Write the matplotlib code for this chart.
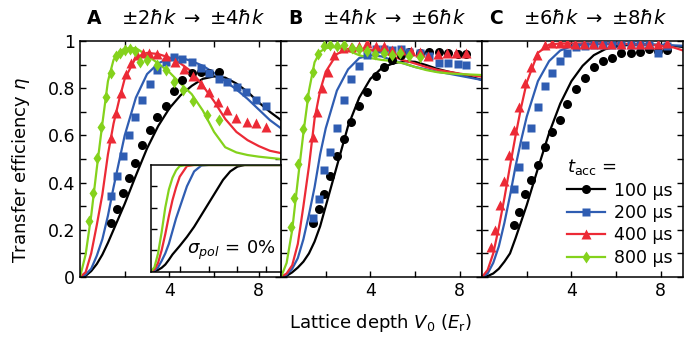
import matplotlib
matplotlib.use("Agg")
import matplotlib.pyplot as plt
from matplotlib.lines import Line2D
from matplotlib.ticker import FixedLocator

plt.rcParams["font.family"] = ["DejaVu Sans"]
plt.rcParams["mathtext.fontset"] = "dejavusans"

# ---- data -------------------------------------------------------------
labels = ["100 μs", "200 μs", "400 μs", "800 μs"]
colors = ["#000000", "#2f5db2", "#ec2a36", "#84d21c"]
markers = ["o", "s", "^", "d"]
titles = [r"$\pm 2\hbar k\;\rightarrow\;{\pm}4\hbar k$",
          r"$\pm 4\hbar k\;\rightarrow\;{\pm}6\hbar k$",
          r"$\pm 6\hbar k\;\rightarrow\;{\pm}8\hbar k$"]
panel_letters = ["A", "B", "C"]
y_ticks = [0, 0.2, 0.4, 0.6, 0.8, 1]
y_ticklabels = ["0", "0.2", "0.4", "0.6", "0.8", "1"]

# theory curves, all on the same V0 grid
v_line = [0, 0.25, 0.5, 0.75, 1, 1.25, 1.5, 1.75, 2, 2.5, 3, 3.5, 4, 4.5,
          5, 5.5, 6, 6.5, 7, 7.5, 8, 8.5, 9]

line_a_100 = [0, 0.005, 0.025, 0.055, 0.095, 0.145, 0.2, 0.255, 0.31, 0.43, 0.545, 0.64,
              0.715, 0.77, 0.81, 0.84, 0.85, 0.845, 0.82, 0.785, 0.74, 0.70, 0.665]
line_a_200 = [0, 0.01, 0.035, 0.09, 0.16, 0.26, 0.38, 0.49, 0.6, 0.76, 0.86, 0.905,
              0.928, 0.93, 0.915, 0.895, 0.865, 0.83, 0.795, 0.755, 0.71, 0.665, 0.63]
line_a_400 = [0, 0.02, 0.1, 0.22, 0.35, 0.52, 0.65, 0.75, 0.84, 0.93, 0.95, 0.945,
              0.93, 0.905, 0.87, 0.81, 0.745, 0.67, 0.615, 0.58, 0.555, 0.535, 0.525]
line_a_800 = [0, 0.095, 0.26, 0.46, 0.65, 0.83, 0.92, 0.955, 0.968, 0.97, 0.94, 0.905,
              0.868, 0.82, 0.775, 0.705, 0.615, 0.55, 0.528, 0.517, 0.51, 0.505, 0.50]

line_b_100 = [0, 0.005, 0.02, 0.04, 0.065, 0.1, 0.15, 0.215, 0.3, 0.47, 0.64, 0.76,
              0.84, 0.885, 0.905, 0.915, 0.912, 0.898, 0.882, 0.87, 0.86, 0.848, 0.835]
line_b_200 = [0, 0.01, 0.035, 0.08, 0.16, 0.265, 0.38, 0.52, 0.63, 0.79, 0.88, 0.928,
              0.94, 0.935, 0.918, 0.905, 0.89, 0.88, 0.87, 0.862, 0.853, 0.844, 0.835]
line_b_400 = [0, 0.015, 0.05, 0.14, 0.3, 0.47, 0.67, 0.79, 0.87, 0.945, 0.967, 0.968,
              0.962, 0.955, 0.935, 0.918, 0.905, 0.89, 0.878, 0.87, 0.862, 0.855, 0.849]
line_b_800 = [0, 0.06, 0.2, 0.41, 0.61, 0.79, 0.91, 0.955, 0.97, 0.975, 0.96, 0.94,
              0.928, 0.92, 0.915, 0.905, 0.89, 0.877, 0.868, 0.863, 0.86, 0.858, 0.856]

line_c_100 = [0, 0.004, 0.015, 0.035, 0.065, 0.1, 0.165, 0.235, 0.305, 0.46, 0.61, 0.735,
              0.83, 0.895, 0.94, 0.965, 0.977, 0.983, 0.985, 0.985, 0.983, 0.98, 0.975]
line_c_200 = [0, 0.015, 0.06, 0.13, 0.23, 0.345, 0.47, 0.58, 0.68, 0.83, 0.915, 0.96,
              0.978, 0.985, 0.988, 0.988, 0.988, 0.987, 0.986, 0.985, 0.984, 0.982, 0.98]
line_c_400 = [0, 0.03, 0.1, 0.21, 0.335, 0.47, 0.6, 0.72, 0.825, 0.95, 0.985, 0.99,
              0.99, 0.99, 0.99, 0.99, 0.99, 0.988, 0.986, 0.984, 0.98, 0.975, 0.96]

# inset: no polarisation noise
inset_100 = [0, 0.003, 0.015, 0.035, 0.065, 0.11, 0.16, 0.2, 0.24, 0.325, 0.42, 0.53,
             0.64, 0.75, 0.86, 0.94, 0.985, 1, 1, 1, 1, 1, 1]
inset_200 = [0, 0.01, 0.04, 0.1, 0.17, 0.26, 0.38, 0.5, 0.6, 0.8, 0.94, 0.995,
             1, 1, 1, 1, 1, 1, 1, 1, 1, 1, 1]
inset_400 = [0, 0.02, 0.08, 0.2, 0.35, 0.52, 0.67, 0.79, 0.89, 0.99, 1, 1,
             1, 1, 1, 1, 1, 1, 1, 1, 1, 1, 1]
inset_800 = [0, 0.04, 0.17, 0.37, 0.6, 0.77, 0.88, 0.95, 0.99, 1, 1, 1,
             1, 1, 1, 1, 1, 1, 1, 1, 1, 1, 1]

# measured points
pts_a_100_v = [1.38, 1.65, 1.92, 2.18, 2.48, 2.78, 3.12, 3.45, 3.83, 4.2, 4.58, 5.0, 5.4, 5.78, 6.23]
pts_a_100 = [0.23, 0.29, 0.355, 0.42, 0.485, 0.56, 0.625, 0.68, 0.725, 0.79, 0.835, 0.865, 0.87, 0.866, 0.87]
pts_a_200_v = [1.38, 1.65, 1.92, 2.18, 2.48, 2.78, 3.12, 3.45, 3.83, 4.2, 4.58, 5.0, 5.4, 5.78,
               6.2, 6.6, 7.02, 7.43, 7.88, 8.33]
pts_a_200 = [0.345, 0.43, 0.513, 0.60, 0.677, 0.75, 0.82, 0.877, 0.912, 0.933, 0.925, 0.91, 0.885,
             0.865, 0.84, 0.828, 0.806, 0.785, 0.75, 0.725]
pts_a_400_v = [1.38, 1.6, 1.83, 2.06, 2.3, 2.55, 2.82, 3.08, 3.45, 3.83, 4.25, 4.65, 5.05, 5.4,
               5.78, 6.16, 6.6, 7.0, 7.46, 7.88, 8.33]
pts_a_400 = [0.588, 0.694, 0.78, 0.859, 0.905, 0.94, 0.95, 0.948, 0.945, 0.935, 0.91, 0.88, 0.85,
             0.82, 0.785, 0.743, 0.707, 0.674, 0.658, 0.651, 0.637]
pts_a_800_v = [0.42, 0.56, 0.75, 0.95, 1.15, 1.38, 1.6, 1.8, 2.03, 2.25, 2.48, 2.7, 3.0, 3.45,
               3.87, 4.2, 4.62, 5.06, 5.7, 6.23]
pts_a_800 = [0.237, 0.354, 0.505, 0.637, 0.764, 0.863, 0.936, 0.95, 0.962, 0.965, 0.959, 0.912,
             0.919, 0.898, 0.876, 0.828, 0.792, 0.746, 0.686, 0.665]

pts_b_v = [1.42, 1.69, 1.94, 2.21, 2.51, 2.81, 3.14, 3.48, 3.86, 4.23, 4.6, 4.98, 5.35, 5.75,
           6.2, 6.62, 7.05, 7.47, 7.9, 8.27]
pts_b_100 = [0.228, 0.287, 0.35, 0.43, 0.513, 0.584, 0.658, 0.726, 0.782, 0.852, 0.888, 0.919,
             0.94, 0.955, 0.95, 0.955, 0.955, 0.948, 0.945, 0.945]
pts_b_200 = [0.249, 0.329, 0.453, 0.531, 0.63, 0.75, 0.838, 0.894, 0.94, 0.965, 0.968, 0.962,
             0.968, 0.955, 0.948, 0.936, 0.905, 0.905, 0.902, 0.9]
pts_b_400_v = [1.42, 1.61, 1.84, 2.09, 2.39, 2.77, 3.14, 3.47, 3.86, 4.23, 4.6, 4.98, 5.35, 5.83,
               6.2, 6.58, 7.03, 7.44, 7.85, 8.3]
pts_b_400 = [0.594, 0.70, 0.799, 0.87, 0.94, 0.969, 0.975, 0.978, 0.99, 0.978, 0.978, 0.96, 0.96,
             0.958, 0.954, 0.936, 0.946, 0.948, 0.95, 0.95]
pts_b_800_v = [0.45, 0.6, 0.78, 0.97, 1.17, 1.42, 1.64, 1.91, 2.21, 2.51, 2.81, 3.17, 3.47, 3.84,
               4.21, 4.6, 4.96, 5.34, 5.75, 6.2]
pts_b_800 = [0.213, 0.333, 0.481, 0.627, 0.757, 0.87, 0.946, 0.979, 0.984, 0.979, 0.983, 0.969,
             0.966, 0.959, 0.945, 0.948, 0.94, 0.948, 0.936, 0.933]

pts_c_v = [1.42, 1.64, 1.9, 2.2, 2.5, 2.8, 3.12, 3.47, 3.8, 4.2, 4.59, 5.0, 5.41, 5.81, 6.2,
           6.65, 7.05, 7.46, 7.88, 8.3]
pts_c_100 = [0.22, 0.277, 0.35, 0.41, 0.475, 0.552, 0.613, 0.665, 0.733, 0.795, 0.845, 0.891,
             0.917, 0.93, 0.95, 0.95, 0.955, 0.965, 0.959, 0.962]
pts_c_200 = [0.373, 0.467, 0.559, 0.633, 0.722, 0.81, 0.863, 0.915, 0.948, 0.973, 0.979, 0.983,
             0.983, 0.983, 0.983, 0.983, 0.983, 0.983, 0.948, 0.979]
pts_c_400_v = [0.4, 0.58, 0.78, 0.97, 1.2, 1.42, 1.64, 1.9, 2.17, 2.47, 2.8, 3.12, 3.47, 3.8,
               4.17, 4.56, 4.96, 5.37, 5.79, 6.2, 6.65, 7.05, 7.46, 7.88, 8.3]
pts_c_400 = [0.128, 0.20, 0.305, 0.408, 0.517, 0.623, 0.72, 0.823, 0.891, 0.94, 0.983, 0.99,
             0.99, 0.99, 0.987, 0.987, 0.987, 0.987, 0.987, 0.987, 0.987, 0.987, 0.987, 0.987, 0.99]

panels = [
    {"lines": [line_a_100, line_a_200, line_a_400, line_a_800],
     "pts": [(pts_a_100_v, pts_a_100), (pts_a_200_v, pts_a_200),
             (pts_a_400_v, pts_a_400), (pts_a_800_v, pts_a_800)]},
    {"lines": [line_b_100, line_b_200, line_b_400, line_b_800],
     "pts": [(pts_b_v, pts_b_100), (pts_b_v, pts_b_200),
             (pts_b_400_v, pts_b_400), (pts_b_800_v, pts_b_800)]},
    {"lines": [line_c_100, line_c_200, line_c_400],
     "pts": [(pts_c_v, pts_c_100), (pts_c_v, pts_c_200), (pts_c_400_v, pts_c_400)]},
]
inset_lines = [inset_100, inset_200, inset_400, inset_800]

msizes = [6.5, 6, 6.5, 6.5]


def style_axes(ax):
    ax.set_xlim(0, 9)
    ax.set_ylim(0, 1)
    ax.xaxis.set_major_locator(FixedLocator([4, 8]))
    ax.xaxis.set_minor_locator(FixedLocator([2, 6]))
    ax.yaxis.set_major_locator(FixedLocator(y_ticks))
    ax.yaxis.set_minor_locator(FixedLocator([0.1, 0.3, 0.5, 0.7, 0.9]))
    ax.tick_params(which="both", direction="in", top=True, right=True,
                   length=4, width=1, labelsize=12.5)
    for s in ax.spines.values():
        s.set_linewidth(1.1)


# ---- figure -----------------------------------------------------------
fig = plt.figure(figsize=(6.84, 3.47), dpi=100)
left, bottom, w, h = 0.117, 0.2017, 0.2939, 0.68

axes = []
for i, p in enumerate(panels):
    ax = fig.add_axes([left + i * w, bottom, w, h])
    style_axes(ax)
    for j, ln in enumerate(p["lines"]):
        ax.plot(v_line, ln, color=colors[j], lw=1.6, zorder=2)
    for j, (vv, ee) in enumerate(p["pts"]):
        ax.plot(vv, ee, ls="none", marker=markers[j], ms=msizes[j],
                color=colors[j], mec="none", zorder=3)
    if i == 0:
        ax.set_yticklabels(y_ticklabels)
    else:
        ax.set_yticklabels([])
    ax.text(0.035, 1.095, panel_letters[i], transform=ax.transAxes,
            fontsize=13.5, fontweight="bold", va="center")
    ax.text(0.205, 1.095, titles[i], transform=ax.transAxes,
            fontsize=14, va="center")
    axes.append(ax)

# inset in panel A
ins = fig.add_axes([0.2205, 0.2175, 0.190, 0.307])
ins.set_xlim(0, 9)
ins.set_ylim(0, 1)
ins.xaxis.set_major_locator(FixedLocator([2, 4, 6, 8]))
ins.yaxis.set_major_locator(FixedLocator([0.2, 0.4, 0.6, 0.8]))
ins.tick_params(direction="in", length=4, width=1, labelbottom=False,
                labelleft=False)
for s in ins.spines.values():
    s.set_linewidth(1.1)
for j, ln in enumerate(inset_lines):
    ins.plot(v_line, ln, color=colors[j], lw=1.6)
ins.text(0.96, 0.2, r"$\sigma_{pol}\,=\,0\%$", transform=ins.transAxes,
         ha="right", va="center", fontsize=13)

# legend in panel C
handles = [Line2D([], [], color=colors[j], lw=1.6, marker=markers[j],
                  ms=msizes[j], mec="none") for j in range(4)]
axes[2].legend(handles, labels, title=r"$t_{\rm acc}$ =", loc="lower right",
               frameon=False, fontsize=12.5, title_fontsize=13,
               handlelength=2.2, labelspacing=0.25, borderaxespad=0.2,
               handletextpad=0.5, alignment="left")

fig.text(0.031, 0.51, r"Transfer efficiency $\eta$", rotation=90,
         ha="center", va="center", fontsize=13)
fig.text(0.557, 0.07, r"Lattice depth $V_0$ ($E_\mathrm{r}$)",
         ha="center", va="center", fontsize=13)

fig.savefig("out.png", dpi=100)
